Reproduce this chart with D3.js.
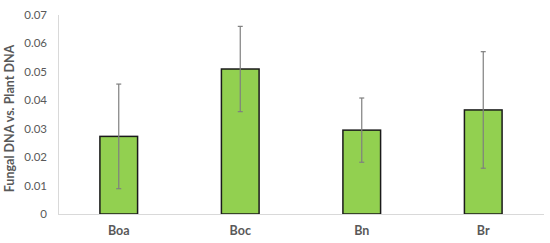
<!DOCTYPE html>
<html lang="en">
<head>
<meta charset="utf-8">
<script src="https://d3js.org/d3.v7.min.js"></script>
<style>
body { margin: 0; background: #fff; }
svg text { font-family: Lato, "Open Sans", sans-serif; fill: #595959; }
</style>
</head>
<body>
<script>
// data
var categories = ["Boa", "Boc", "Bn", "Br"];
var means = [0.0273, 0.0510, 0.0295, 0.0366];
var errors = [0.0184, 0.0150, 0.0113, 0.0205];
var yTicks = [0, 0.01, 0.02, 0.03, 0.04, 0.05, 0.06, 0.07];

var width = 550, height = 243;
var margin = {top: 15, right: 6, bottom: 29, left: 58};

var svg = d3.select("body").append("svg")
    .attr("width", width)
    .attr("height", height);

var x = d3.scaleBand()
    .domain(categories)
    .range([margin.left, width - margin.right])
    .paddingInner(0.69)
    .paddingOuter(0.345);

var y = d3.scaleLinear()
    .domain([0, 0.07])
    .range([height - margin.bottom, margin.top]);

// y axis: vertical line + labels
svg.append("line")
    .attr("x1", margin.left + 0.5).attr("x2", margin.left + 0.5)
    .attr("y1", y(0.07)).attr("y2", y(0))
    .attr("stroke", "#d9d9d9");

svg.selectAll(".ytick")
    .data(yTicks)
    .enter().append("text")
    .attr("class", "ytick")
    .attr("x", 47)
    .attr("y", function(d) { return y(d); })
    .attr("dy", "0.35em")
    .attr("text-anchor", "end")
    .style("font-size", "11.5px")
    .text(function(d) { return d === 0 ? "0" : d3.format(".2f")(d); });

// bars
svg.selectAll(".bar")
    .data(means)
    .enter().append("rect")
    .attr("class", "bar")
    .attr("x", function(d, i) { return x(categories[i]); })
    .attr("y", function(d) { return y(d); })
    .attr("width", x.bandwidth())
    .attr("height", function(d) { return y(0) - y(d); })
    .attr("fill", "#92d050")
    .attr("stroke", "#1a1a1a")
    .attr("stroke-width", 1.5);

// baseline
svg.append("line")
    .attr("x1", margin.left).attr("x2", width - margin.right)
    .attr("y1", y(0) + 0.5).attr("y2", y(0) + 0.5)
    .attr("stroke", "#d9d9d9");

// error bars
var eb = svg.selectAll(".err")
    .data(means)
    .enter().append("g")
    .attr("class", "err")
    .attr("stroke", "#7f7f7f")
    .attr("stroke-width", 1.2);

eb.append("line")
    .attr("x1", function(d, i) { return x(categories[i]) + x.bandwidth() / 2; })
    .attr("x2", function(d, i) { return x(categories[i]) + x.bandwidth() / 2; })
    .attr("y1", function(d, i) { return y(d + errors[i]); })
    .attr("y2", function(d, i) { return y(d - errors[i]); });

[1, -1].forEach(function(s) {
  eb.append("line")
      .attr("x1", function(d, i) { return x(categories[i]) + x.bandwidth() / 2 - 2.5; })
      .attr("x2", function(d, i) { return x(categories[i]) + x.bandwidth() / 2 + 2.5; })
      .attr("y1", function(d, i) { return y(d + s * errors[i]); })
      .attr("y2", function(d, i) { return y(d + s * errors[i]); });
});

// category labels
svg.selectAll(".xlab")
    .data(categories)
    .enter().append("text")
    .attr("class", "xlab")
    .attr("x", function(d) { return x(d) + x.bandwidth() / 2; })
    .attr("y", 235)
    .attr("text-anchor", "middle")
    .style("font-size", "12.5px")
    .style("font-weight", "bold")
    .text(function(d) { return d; });

// y axis title
svg.append("text")
    .attr("transform", "translate(14," + ((y(0) + y(0.07)) / 2 + 4) + ") rotate(-90)")
    .attr("text-anchor", "middle")
    .style("font-size", "12.5px")
    .style("font-weight", "bold")
    .text("Fungal DNA vs. Plant DNA");
</script>
</body>
</html>
